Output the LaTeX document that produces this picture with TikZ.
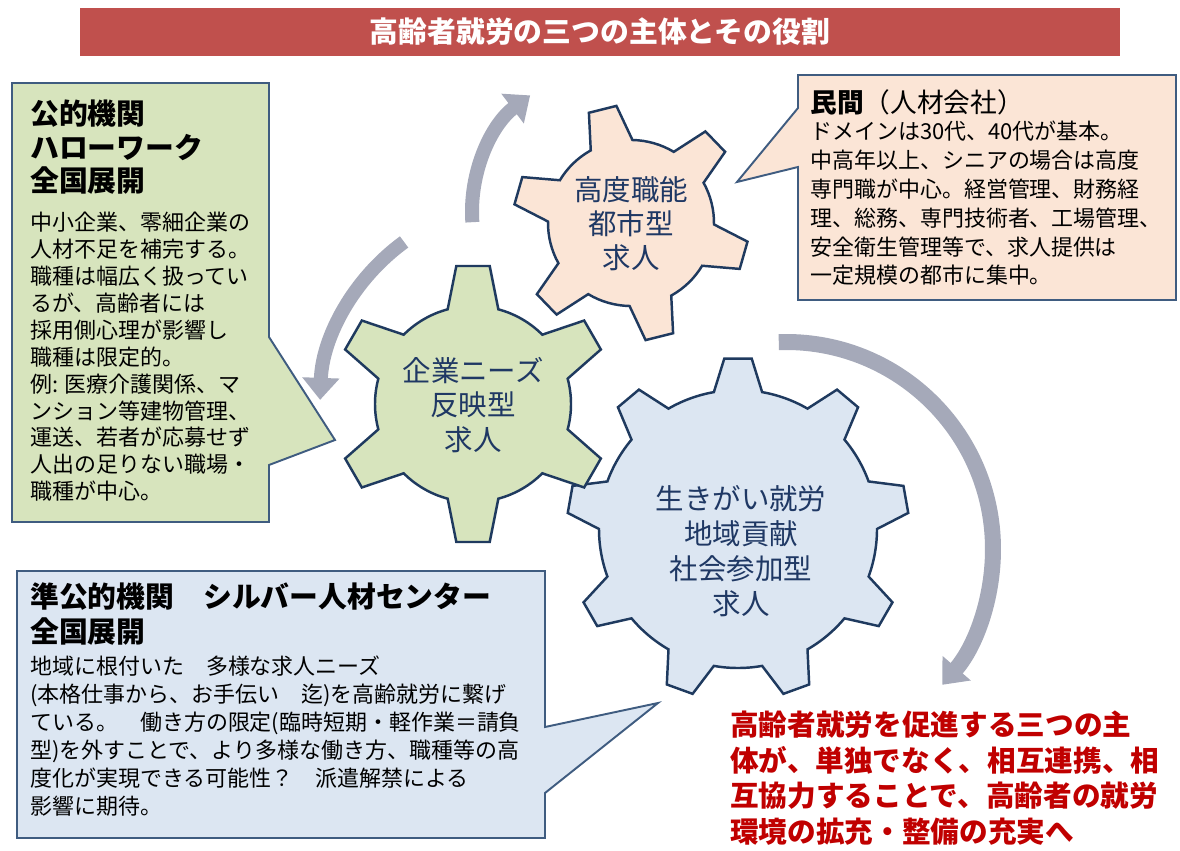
\documentclass[tikz,border=0pt]{standalone}
\usepackage{fontspec}
\setmainfont{Noto Sans CJK JP}
\usetikzlibrary{arrows.meta}

\definecolor{titlered}{HTML}{C0504D}
\definecolor{olivefill}{HTML}{D7E4BD}
\definecolor{peachfill}{HTML}{FBE5D6}
\definecolor{skyfill}{HTML}{DCE6F2}
\definecolor{boxline}{HTML}{3F5C80}
\definecolor{navyline}{HTML}{1F3A5F}
\definecolor{gearink}{HTML}{1F3864}
\definecolor{turngray}{HTML}{A5A9B9}
\definecolor{notered}{HTML}{C00000}

% center, outer radius, inner radius, teeth, first tooth angle, fill
\newcommand{\drawgear}[6]{%
  \pgfmathsetmacro{\gsp}{360/#4}%
  \pgfmathsetmacro{\gtip}{0.115*\gsp}%
  \pgfmathsetmacro{\gbase}{0.25*\gsp}%
  \draw[gearedge, fill=#6, shift={#1}] (#5-\gbase:#3)
    \foreach \k in {1,...,#4} {
      -- ({#5+(\k-1)*\gsp-\gbase}:#3) -- ({#5+(\k-1)*\gsp-\gtip}:#2)
      -- ({#5+(\k-1)*\gsp+\gtip}:#2) -- ({#5+(\k-1)*\gsp+\gbase}:#3)
      arc[start angle={#5+(\k-1)*\gsp+\gbase}, end angle={#5+\k*\gsp-\gbase}, radius=#3]
    } -- cycle;}

\begin{document}
\begin{tikzpicture}[x=0.02cm, y=0.02cm]
  \tikzstyle{gearedge}=[draw=navyline, line width=1.4pt, line join=miter]
  \tikzstyle{callout}=[draw=boxline, line width=1.1pt, line join=miter]
  \tikzstyle{turn}=[draw=turngray, line width=0.28cm, -{Triangle[length=0.44cm, width=0.72cm]}]
  \tikzstyle{geartext}=[align=center, inner sep=0, text=gearink, font=\fontsize{16.2}{19.8}\selectfont]
  \tikzstyle{headtext}=[anchor=north west, align=left, inner sep=0, font=\bfseries\fontsize{16.4}{19}\selectfont]
  \tikzstyle{bodytext}=[anchor=north west, align=left, inner sep=0, font=\fontsize{12.5}{15.3}\selectfont]
  \useasboundingbox (0,0) rectangle (1180,-851);

  \path (600,-32) node[fill=titlered, text=white, minimum width=20.8cm, minimum height=0.96cm, inner sep=0,
     font=\bfseries\fontsize{16.4}{18}\selectfont] (title) {高齢者就労の三つの主体とその役割};

  \draw[turn] (618,-212) ++(184:146) arc[start angle=184, end angle=127, radius=146];
  \draw[turn] (524,-407) ++(126:204) arc[start angle=126, end angle=178, radius=204];
  \draw[turn, line width=0.32cm] (786,-549) ++(92:207) arc[start angle=92, end angle=-41, radius=207];

  \drawgear{(738,-529)}{171}{139}{9}{90}{skyfill}
  \drawgear{(473,-404)}{139}{98}{6}{90}{olivefill}
  \drawgear{(631,-223)}{118}{83}{6}{44}{peachfill}

  \path (473,-405) node[geartext] (bizgear) {企業ニーズ\\反映型\\求人};
  \path (631,-224) node[geartext, font=\fontsize{16.2}{19.3}\selectfont] (citygear) {高度職能\\都市型\\求人};
  \path (741,-551) node[geartext] (lifegear) {生きがい就労\\地域貢献\\社会参加型\\求人};

  \draw[callout, fill=olivefill] (12,-83) -- (269,-83) -- (269,-337) -- (335,-440) -- (269,-465)
     -- (269,-522) -- (12,-522) -- cycle;
  \draw[callout, fill=peachfill] (798,-75) -- (1176,-75) -- (1176,-300) -- (798,-300) -- (798,-167)
     -- (737,-182) -- (798,-108) -- cycle;
  \draw[callout, fill=skyfill] (17,-571) -- (545,-571) -- (545,-727) -- (658,-703) -- (545,-793)
     -- (545,-838) -- (17,-838) -- cycle;

  \path (30,-100) node[headtext] (pubhead) {公的機関\\ハローワーク\\全国展開};
  \path (30,-212) node[bodytext] (pubbody) {中小企業、零細企業の\\人材不足を補完する。\\職種は幅広く扱ってい\\るが、高齢者には\\採用側心理が影響し\\職種は限定的。\\例: 医療介護関係、マ\\ンション等建物管理、\\運送、若者が応募せず\\人出の足りない職場・\\職種が中心。};

  \path (810,-89) node[headtext, font=\fontsize{15.2}{18}\selectfont] (privhead) {\textbf{民間}（人材会社）};
  \path (810,-121) node[bodytext, font=\fontsize{12.5}{16.4}\selectfont] (privbody) {ドメインは30代、40代が基本。\\中高年以上、シニアの場合は高度\\専門職が中心。経営管理、財務経\\理、総務、専門技術者、工場管理、\\安全衛生管理等で、求人提供は\\一定規模の都市に集中。};

  \path (30,-582) node[headtext, font=\bfseries\fontsize{16.4}{20.4}\selectfont] (silvhead) {準公的機関　シルバー人材センター\\全国展開};
  \path (30,-655) node[bodytext, font=\fontsize{12.5}{16}\selectfont] (silvbody) {地域に根付いた　多様な求人ニーズ\\(本格仕事から、お手伝い　迄)を高齢就労に繋げ\\ている。　働き方の限定(臨時短期・軽作業＝請負\\型)を外すことで、より多様な働き方、職種等の高\\度化が実現できる可能性？　派遣解禁による\\影響に期待。};

  \path (730,-711) node[anchor=north west, align=left, inner sep=0, text=notered,
     font=\bfseries\fontsize{16.3}{20.2}\selectfont] (summary) {高齢者就労を促進する三つの主\\体が、単独でなく、相互連携、相\\互協力することで、高齢者の就労\\環境の拡充・整備の充実へ};
\end{tikzpicture}
\end{document}
